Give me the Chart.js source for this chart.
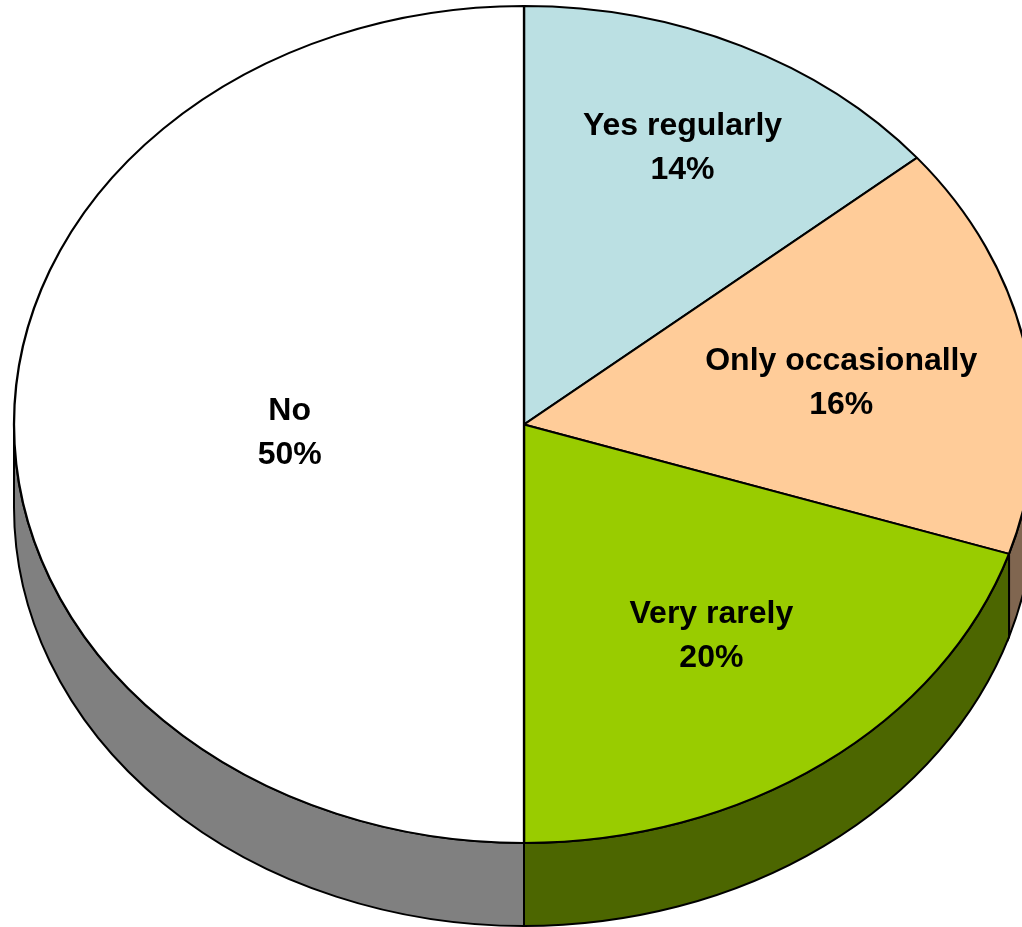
<!DOCTYPE html>
<html>
<head>
<meta charset="utf-8">
<script src="https://cdn.jsdelivr.net/npm/chart.js@4"></script>
<style>
  html, body { margin: 0; padding: 0; background: #fff; overflow: hidden; }
</style>
</head>
<body>
<canvas id="pie-chart" width="1022" height="927"></canvas>
<script>
const labels = ['Yes regularly', 'Only occasionally', 'Very rarely', 'No'];
const shares = [14, 16, 20, 50];
const topColors = ['#BBE0E3', '#FFCC99', '#99CC00', '#FFFFFF'];
const sideColors = ['#5D7071', '#806650', '#4C6600', '#808080'];
// how far out (fraction of radius) each label sits, and a small turn in degrees
const labelDepth = [0.73, 0.63, 0.625, 0.46];
const labelTurn = [0, 1.7, 0, -2.7];

const squash = 418.5 / 510; // vertical / horizontal radius
const depth = 83;           // thickness of the pie

const ctx = document.getElementById('pie-chart').getContext('2d');

const pie3d = {
    id: 'pie3d',
    beforeDatasetsDraw(chart) {
        const c = chart.ctx;
        const arcs = chart.getDatasetMeta(0).data;
        const cx = arcs[0].x, cy = arcs[0].y;
        const rx = arcs[0].outerRadius, ry = rx * squash;

        // side walls, only the front half is visible
        arcs.forEach((arc, i) => {
            const a0 = Math.max(arc.startAngle, 0);
            const a1 = Math.min(arc.endAngle, Math.PI);
            if (a1 <= a0) return;
            c.beginPath();
            c.ellipse(cx, cy, rx, ry, 0, a0, a1);
            c.ellipse(cx, cy + depth, rx, ry, 0, a1, a0, true);
            c.closePath();
            c.fillStyle = sideColors[i];
            c.fill();
            c.lineWidth = 2;
            c.strokeStyle = '#000';
            c.stroke();
        });

        // squash the top face into an ellipse
        c.save();
        c.translate(cx, cy);
        c.scale(1, squash);
        c.translate(-cx, -cy);
    },
    afterDatasetsDraw(chart) {
        const c = chart.ctx;
        c.restore();

        const arcs = chart.getDatasetMeta(0).data;
        c.save();
        c.fillStyle = '#000';
        c.font = 'bold 32px "Liberation Sans", Arial, sans-serif';
        c.textAlign = 'center';
        c.textBaseline = 'middle';
        arcs.forEach((arc, i) => {
            const mid = (arc.startAngle + arc.endAngle) / 2 + labelTurn[i] * Math.PI / 180;
            const r = arc.outerRadius * labelDepth[i];
            const x = arc.x + r * Math.cos(mid);
            const y = arc.y + r * squash * Math.sin(mid);
            c.fillText(labels[i], x, y - 22);
            c.fillText(shares[i] + '%', x, y + 22);
        });
        c.restore();
    }
};

const pieChart = new Chart(ctx, {
    type: 'pie',
    data: {
        labels: labels,
        datasets: [{
            data: shares,
            backgroundColor: topColors,
            borderColor: '#000',
            borderWidth: 2.3,
            clip: false
        }]
    },
    options: {
        responsive: false,
        animation: false,
        events: [],
        radius: 510,
        layout: {
            padding: { left: 26, right: 0, top: 0, bottom: 78 }
        },
        plugins: {
            legend: { display: false },
            tooltip: { enabled: false }
        }
    },
    plugins: [pie3d]
});
</script>
</body>
</html>
